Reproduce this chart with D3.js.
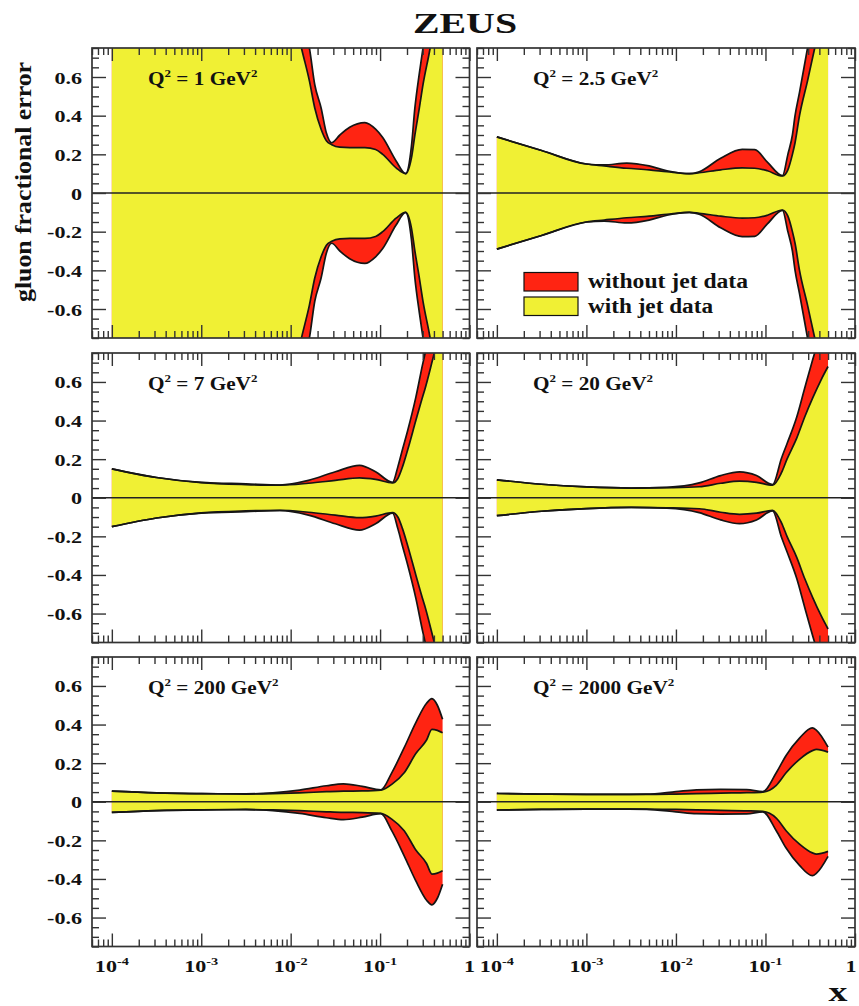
<!DOCTYPE html>
<html>
<head>
<meta charset="utf-8">
<script src="https://cdn.jsdelivr.net/npm/d3@7"></script>
<style>
  html, body { margin: 0; padding: 0; background: #fff; }
  svg { display: block; }
</style>
</head>
<body>
<svg id="chart" width="859" height="1006"></svg>
<script>
// ---- Gluon fractional error bands, ZEUS fit with / without jet data ----

// Q^2 values (GeV^2) of the six panels
const q2Labels = ["1", "2.5", "7", "20", "200", "2000"];

// Q^2 = 1 GeV^2
const x1 = [1e-4, 1e-3, 0.00398, 0.00794, 0.0132, 0.0162, 0.0186, 0.0219, 0.0251, 0.0288, 0.0355, 0.0457, 0.0676, 0.0891, 0.107, 0.151, 0.193, 0.224, 0.245, 0.275, 0.302, 0.363, 0.5];
const withJet1 = [3.0, 3.0, 2.2, 1.25, 0.75, 0.58, 0.44, 0.33, 0.27, 0.25, 0.237, 0.235, 0.235, 0.225, 0.20, 0.13, 0.10, 0.18, 0.30, 0.44, 0.56, 0.75, 1.2];
const withoutJet1 = [3.0, 3.0, 2.4, 1.45, 0.9, 0.75, 0.56, 0.44, 0.31, 0.26, 0.30, 0.34, 0.364, 0.33, 0.287, 0.166, 0.10, 0.24, 0.44, 0.62, 0.75, 1.0, 1.6];

// Q^2 = 2.5 GeV^2
const x2 = [1e-4, 3.16e-4, 1e-3, 1.58e-3, 2.82e-3, 5.01e-3, 7.94e-3, 0.0141, 0.0182, 0.0316, 0.0550, 0.0759, 0.105, 0.155, 0.178, 0.2, 0.214, 0.240, 0.295, 0.355, 0.5];
const withJet2 = [0.29, 0.22, 0.15, 0.14, 0.128, 0.12, 0.11, 0.10, 0.105, 0.12, 0.13, 0.128, 0.115, 0.088, 0.12, 0.20, 0.26, 0.40, 0.58, 0.75, 1.05];
const withoutJet2 = [0.29, 0.22, 0.15, 0.145, 0.155, 0.14, 0.115, 0.10, 0.11, 0.18, 0.226, 0.224, 0.16, 0.09, 0.20, 0.30, 0.40, 0.52, 0.75, 0.95, 1.3];

// Q^2 = 7 GeV^2
const x3 = [1e-4, 3.16e-4, 1e-3, 3.16e-3, 7.59e-3, 0.0158, 0.0316, 0.0589, 0.0891, 0.138, 0.158, 0.178, 0.204, 0.251, 0.302, 0.316, 0.389, 0.5];
const withJet3 = [0.15, 0.105, 0.078, 0.068, 0.065, 0.075, 0.09, 0.103, 0.095, 0.077, 0.10, 0.16, 0.25, 0.40, 0.53, 0.56, 0.72, 0.92];
const withoutJet3 = [0.15, 0.105, 0.08, 0.072, 0.066, 0.09, 0.135, 0.168, 0.135, 0.08, 0.16, 0.25, 0.35, 0.52, 0.70, 0.74, 0.92, 1.15];

// Q^2 = 20 GeV^2
const x4 = [1e-4, 3.16e-4, 1e-3, 3.16e-3, 7.94e-3, 0.0182, 0.0316, 0.0513, 0.0794, 0.120, 0.151, 0.174, 0.224, 0.275, 0.339, 0.417, 0.5];
const withJet4 = [0.093, 0.07, 0.056, 0.05, 0.052, 0.057, 0.075, 0.086, 0.08, 0.065, 0.13, 0.20, 0.31, 0.42, 0.52, 0.61, 0.68];
const withoutJet4 = [0.093, 0.07, 0.056, 0.05, 0.054, 0.077, 0.115, 0.134, 0.115, 0.068, 0.205, 0.28, 0.42, 0.57, 0.72, 0.86, 0.98];

// Q^2 = 200 GeV^2
const x5 = [1e-4, 3.16e-4, 1e-3, 3.16e-3, 6.31e-3, 0.0126, 0.0251, 0.0389, 0.0631, 0.102, 0.135, 0.186, 0.251, 0.331, 0.380, 0.437, 0.5];
const withJet5 = [0.055, 0.046, 0.042, 0.04, 0.042, 0.046, 0.052, 0.055, 0.056, 0.06, 0.09, 0.15, 0.25, 0.32, 0.375, 0.37, 0.357];
const withoutJet5 = [0.055, 0.046, 0.042, 0.041, 0.046, 0.06, 0.083, 0.093, 0.08, 0.062, 0.15, 0.28, 0.41, 0.51, 0.534, 0.5, 0.427];

// Q^2 = 2000 GeV^2
const x6 = [1e-4, 3.16e-4, 1e-3, 4.68e-3, 0.01, 0.0170, 0.0316, 0.0617, 0.0933, 0.132, 0.170, 0.240, 0.334, 0.372, 0.5];
const withJet6 = [0.043, 0.04, 0.038, 0.038, 0.04, 0.042, 0.045, 0.047, 0.05, 0.085, 0.15, 0.22, 0.265, 0.271, 0.257];
const withoutJet6 = [0.043, 0.04, 0.038, 0.039, 0.052, 0.062, 0.064, 0.063, 0.052, 0.15, 0.24, 0.33, 0.383, 0.37, 0.283];

// axis ticks and labels
const yTickValues = [-0.6, -0.4, -0.2, 0, 0.2, 0.4, 0.6];
const yTickLabels = ["-0.6", "-0.4", "-0.2", "0", "0.2", "0.4", "0.6"];
const xTickValues = [1e-4, 1e-3, 1e-2, 1e-1, 1];
const xTickBases = ["10", "10", "10", "10", "1"];
const xTickExps = ["-4", "-3", "-2", "-1", ""];
const legendLabels = ["without jet data", "with jet data"];

const panels = [
  { x: x1, withJet: withJet1, withoutJet: withoutJet1 },
  { x: x2, withJet: withJet2, withoutJet: withoutJet2 },
  { x: x3, withJet: withJet3, withoutJet: withoutJet3 },
  { x: x4, withJet: withJet4, withoutJet: withoutJet4 },
  { x: x5, withJet: withJet5, withoutJet: withoutJet5 },
  { x: x6, withJet: withJet6, withoutJet: withoutJet6 }
];

// ---- layout ----
const FONT = "'Liberation Serif', 'Times New Roman', serif";
const RED = "#ff2412";
const YELLOW = "#f0f034";
const colX = [[92, 469.5], [477, 855]];
const rowY = [[48, 338], [353, 642.5], [657, 946.5]];
const xDomain = [6e-5, 1];
const yDomain = [-0.75, 0.75];

const svg = d3.select("#chart");

function stretchedText(parent, x, y, sx, anchor, size) {
  return parent.append("text")
    .attr("transform", `translate(${x},${y}) scale(${sx},1)`)
    .attr("text-anchor", anchor)
    .attr("font-family", FONT)
    .attr("font-weight", "bold")
    .attr("font-size", size)
    .attr("fill", "#111");
}

// minor tick positions
const yMinor = d3.range(-0.75, 0.7501, 0.05).filter(v => Math.abs(Math.round(v * 5) - v * 5) > 1e-6);
const xMinor = [];
for (let e = -5; e <= -1; e++) for (let k = 2; k <= 9; k++) {
  const v = k * Math.pow(10, e);
  if (v >= xDomain[0] && v <= xDomain[1]) xMinor.push(v);
}

panels.forEach((p, i) => {
  const col = i % 2, row = Math.floor(i / 2);
  const [px0, px1] = colX[col];
  const [py0, py1] = rowY[row];
  const x = d3.scaleLog().domain(xDomain).range([px0, px1]);
  const y = d3.scaleLinear().domain(yDomain).range([py1, py0]);

  const g = svg.append("g");
  const clipId = "clip" + i;
  g.append("clipPath").attr("id", clipId)
    .append("rect").attr("x", px0).attr("y", py0).attr("width", px1 - px0).attr("height", py1 - py0);

  const pts = p.x.map((xv, k) => ({ x: xv, w: p.withJet[k], wo: p.withoutJet[k] }));
  const curve = d3.curveMonotoneX;
  const bands = g.append("g").attr("clip-path", `url(#${clipId})`);

  const areaWo = d3.area().curve(curve).x(d => x(d.x)).y0(d => y(-d.wo)).y1(d => y(d.wo));
  const areaW = d3.area().curve(curve).x(d => x(d.x)).y0(d => y(-d.w)).y1(d => y(d.w));
  bands.append("path").datum(pts).attr("d", areaWo).attr("fill", RED);
  bands.append("path").datum(pts).attr("d", areaW).attr("fill", YELLOW);

  const edges = [d => d.wo, d => -d.wo, d => d.w, d => -d.w];
  edges.forEach(f => {
    bands.append("path").datum(pts)
      .attr("d", d3.line().curve(curve).x(d => x(d.x)).y(d => y(f(d))))
      .attr("fill", "none").attr("stroke", "#151515").attr("stroke-width", 1.7);
  });

  // zero line
  g.append("line").attr("x1", px0).attr("x2", px1).attr("y1", y(0)).attr("y2", y(0))
    .attr("stroke", "#222").attr("stroke-width", 1.3);

  // tick marks on all four sides
  const axes = g.append("g");
  const addAxis = (axis, tx, ty) => {
    const a = axes.append("g").attr("transform", `translate(${tx},${ty})`).call(axis);
    a.select(".domain").remove();
    a.selectAll("line").attr("stroke", "#333").attr("stroke-width", 1.4);
  };
  addAxis(d3.axisLeft(y).tickValues(yTickValues).tickSize(-14).tickFormat(""), px0, 0);
  addAxis(d3.axisLeft(y).tickValues(yMinor).tickSize(-7).tickFormat(""), px0, 0);
  addAxis(d3.axisRight(y).tickValues(yTickValues).tickSize(-14).tickFormat(""), px1, 0);
  addAxis(d3.axisRight(y).tickValues(yMinor).tickSize(-7).tickFormat(""), px1, 0);
  addAxis(d3.axisTop(x).tickValues(xTickValues).tickSize(-13).tickFormat(""), 0, py0);
  addAxis(d3.axisTop(x).tickValues(xMinor).tickSize(-7).tickFormat(""), 0, py0);
  addAxis(d3.axisBottom(x).tickValues(xTickValues).tickSize(-13).tickFormat(""), 0, py1);
  addAxis(d3.axisBottom(x).tickValues(xMinor).tickSize(-7).tickFormat(""), 0, py1);

  // frame
  g.append("rect").attr("x", px0).attr("y", py0).attr("width", px1 - px0).attr("height", py1 - py0)
    .attr("fill", "none").attr("stroke", "#333").attr("stroke-width", 1.7);

  // y tick labels on the left column
  if (col === 0) {
    yTickValues.forEach((v, k) => {
      stretchedText(svg, px0 - 10, y(v) + 6.5, 1.3, "end", 17).text(yTickLabels[k]);
    });
  }

  // x tick labels on the bottom row (the label at x = 1 of the right panel is kept inside the page)
  if (row === 2) {
    xTickValues.forEach((v, k) => {
      const lx = Math.min(x(v), 851);
      const t = stretchedText(svg, lx, 972, 1.3, "middle", 17);
      t.append("tspan").text(xTickBases[k]);
      if (xTickExps[k]) t.append("tspan").attr("font-size", 11).attr("dy", -7).text(xTickExps[k]);
    });
  }

  // Q^2 label
  const q = stretchedText(svg, px0 + 56, py0 + 37, 1.18, "start", 18);
  q.append("tspan").text("Q");
  q.append("tspan").attr("font-size", 11).attr("dy", -8).text("2");
  q.append("tspan").attr("dy", 8).text(" = " + q2Labels[i] + " GeV");
  q.append("tspan").attr("font-size", 11).attr("dy", -8).text("2");
});

// legend (inside the Q^2 = 2.5 panel)
const legColors = [RED, YELLOW];
legendLabels.forEach((lab, k) => {
  svg.append("rect").attr("x", 524).attr("y", 272.5 + k * 24.5).attr("width", 54).attr("height", 18.5)
    .attr("fill", legColors[k]).attr("stroke", "#111").attr("stroke-width", 1.2);
  svg.append("text").attr("x", 588).attr("y", 288 + k * 25.3)
    .attr("font-family", FONT).attr("font-weight", "bold").attr("font-size", 20)
    .attr("textLength", k === 0 ? 160 : 125).attr("lengthAdjust", "spacingAndGlyphs")
    .attr("fill", "#111").text(lab);
});

// title
stretchedText(svg, 465, 33, 1.33, "middle", 30).text("ZEUS");

// y axis title
svg.append("text")
  .attr("transform", "translate(31,182) rotate(-90)")
  .attr("text-anchor", "middle")
  .attr("font-family", FONT).attr("font-weight", "bold").attr("font-size", 24)
  .attr("textLength", 240).attr("lengthAdjust", "spacingAndGlyphs")
  .attr("fill", "#111").text("gluon fractional error");

// x axis title
stretchedText(svg, 838, 1001, 1.4, "middle", 27).text("x");
</script>
</body>
</html>
